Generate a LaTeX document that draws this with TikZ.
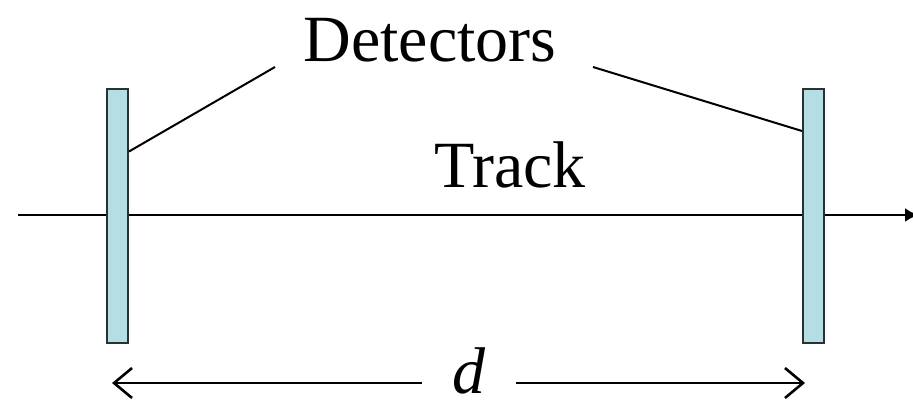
\documentclass[tikz,border=0pt]{standalone}
\usepackage{fontspec}
\setmainfont{Liberation Serif}
\usetikzlibrary{arrows.meta}
\definecolor{detfill}{RGB}{180,222,228}
\definecolor{detedge}{RGB}{40,50,50}
\begin{document}
\begin{tikzpicture}[x=1pt,y=-1pt,
  detbox/.style={draw=detedge,line width=2pt,fill=detfill,minimum width=21pt,minimum height=254pt,inner sep=0pt},
  biglabel/.style={font=\fontsize{66}{70}\selectfont,inner sep=0pt},
  leader/.style={line width=2pt,black},
  trackline/.style={line width=2.8pt,-{Latex[length=14pt,width=14pt]}},
  dimarrow/.style={line width=2.6pt,-{Straight Barb[length=18pt,width=30pt,line width=2.6pt]}}]
\useasboundingbox (0,0) rectangle (913,399);
% track
\coordinate (ts) at (18,215);
\coordinate (te) at (919,215);
\draw[trackline] (ts) -- (te);
% detectors
\node[detbox] (ldet) at (117.5,215.5) {};
\node[detbox] (rdet) at (813.5,215.5) {};
% labels
\node[biglabel,anchor=base] (dets) at (430,61) {Detectors};
\node[biglabel,anchor=base] (track) at (510,187) {Track};
\node[biglabel,anchor=base,inner xsep=30pt] (dlab) at (469,393) {\textit{d}};
% leaders
\coordinate (lla) at (275,67);
\coordinate (rla) at (593,67);
\draw[leader] (lla) -- ([yshift=64pt]ldet.east);
\draw[leader] (rla) -- ([yshift=84.5pt]rdet.west);
% dimension arrow
\coordinate (al) at (112,383);
\coordinate (ar) at (805,383);
\draw[dimarrow] (dlab.west |- al) -- (al);
\draw[dimarrow] (dlab.east |- ar) -- (ar);
\end{tikzpicture}
\end{document}
